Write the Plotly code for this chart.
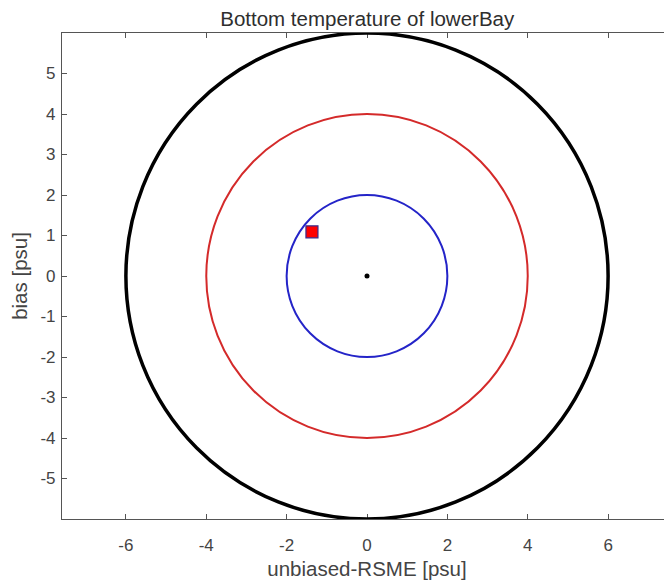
import plotly.graph_objects as go

# target diagram for bottom temperature, lowerBay
ring_radius = [6, 4, 2]
ring_color = ['black', '#d42a2a', '#2424c8']
ring_width = [3.5, 2, 2]

point_x = [-1.37]   # unbiased RMSE
point_y = [1.09]    # bias

xticks = [-6, -4, -2, 0, 2, 4, 6]
yticks = [-5, -4, -3, -2, -1, 0, 1, 2, 3, 4, 5]

fig = go.Figure()

# rings as layout shapes
for r, c, w in zip(ring_radius, ring_color, ring_width):
    fig.add_shape(type='circle', xref='x', yref='y', x0=-r, y0=-r, x1=r, y1=r,
                  line=dict(color=c, width=w), layer='above')

# origin dot
fig.add_trace(go.Scatter(x=[0], y=[0], mode='markers',
                         marker=dict(color='black', size=5), showlegend=False))
# model point
fig.add_trace(go.Scatter(x=point_x, y=point_y, mode='markers',
                         marker=dict(symbol='square', color='red', size=12,
                                     line=dict(color='#3a2a8a', width=1.2)),
                         showlegend=False))

axis_style = dict(showgrid=False, zeroline=False, showline=True, linecolor='#555555',
                  linewidth=1.2, mirror='allticks', ticks='inside', ticklen=5,
                  tickcolor='#555555', tickfont=dict(size=17, color='#444444'))

fig.update_xaxes(range=[-7.59, 7.59], tickvals=xticks, ticktext=[str(v) for v in xticks],
                 ticklabelstandoff=10,
                 title=dict(text='unbiased-RSME [psu]', font=dict(size=20.5, color='#444444'), standoff=8),
                 **axis_style)
fig.update_yaxes(range=[-6, 6], tickvals=yticks, ticktext=[str(v) for v in yticks],
                 ticklabelstandoff=2,
                 title=dict(text='bias [psu]', font=dict(size=20.5, color='#444444'), standoff=8),
                 **axis_style)

# page body adds an 8px offset, so the figure is 8px smaller on each side
fig.update_layout(
    width=664, height=578,
    margin=dict(l=54, r=0, t=25, b=67),
    plot_bgcolor='white', paper_bgcolor='white',
    font=dict(family='Liberation Sans, Arial, sans-serif'),
    title=dict(text='Bottom temperature of lowerBay', x=0.541, xanchor='center',
               y=0.981, yanchor='middle', font=dict(size=20.5, color='#2e2e2e')),
)

fig.write_html("out.html")
